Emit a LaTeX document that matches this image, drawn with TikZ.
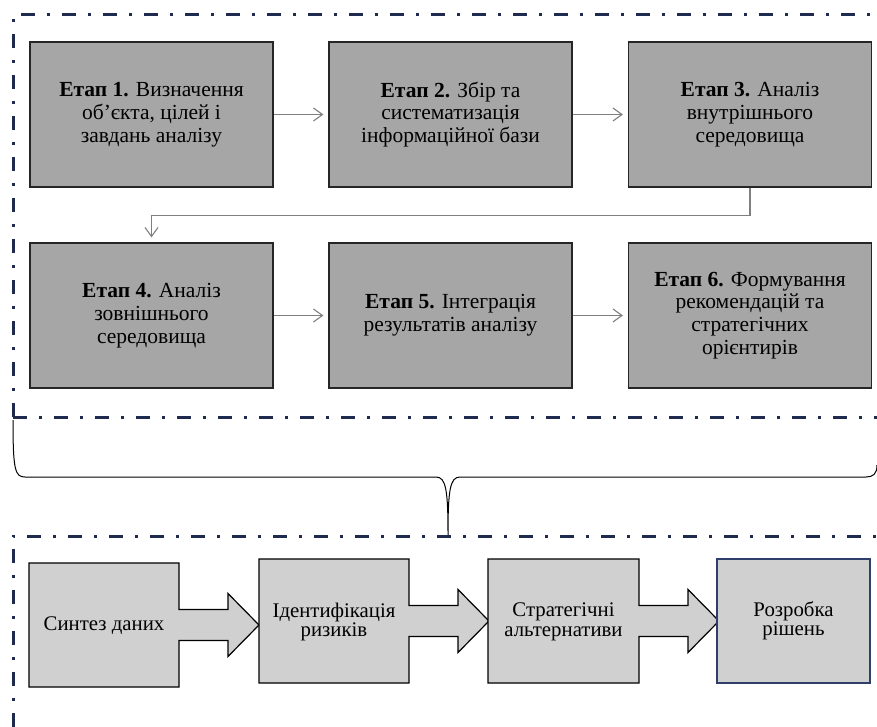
\documentclass[tikz,border=0pt]{standalone}
\usepackage{fontspec}
\setmainfont{Liberation Serif}
\usetikzlibrary{arrows.meta,calc}
\definecolor{navyframe}{HTML}{1F2A4F}
\definecolor{navyborder}{HTML}{2F3E6B}
\definecolor{topgray}{HTML}{A6A6A6}
\definecolor{botgray}{HTML}{D0D0D0}
\definecolor{conngray}{HTML}{7F7F7F}
\newcommand\ArrowShape[4]{%
  \draw[abox] (#1,#2) -- (#3,#2) -- (#3,{(#2+#4)/2-15.5}) -- ({#3+49},{(#2+#4)/2-15.5})
    -- ({#3+49},{(#2+#4)/2-31.5}) -- ({#3+80},{(#2+#4)/2}) -- ({#3+49},{(#2+#4)/2+31.5})
    -- ({#3+49},{(#2+#4)/2+15.5}) -- (#3,{(#2+#4)/2+15.5}) -- (#3,#4) -- (#1,#4) -- cycle;}
\begin{document}
\begin{tikzpicture}[x=1pt,y=-1pt,
  stage/.style={draw=black!85,line width=1.2pt,fill=topgray,minimum width=243pt,minimum height=145pt,
    align=center,inner sep=0pt,font=\fontsize{21.5}{22.8}\selectfont},
  frameline/.style={draw=navyframe,line width=3pt,dash pattern=on 14pt off 12pt on 3pt off 12pt},
  conn/.style={draw=conngray,line width=1.1pt,-{Straight Barb[length=9pt,width=13pt]},shorten >=5pt},
  abox/.style={draw=black,line width=1.2pt,fill=botgray},
  atext/.style={align=center,inner sep=0pt,font=\fontsize{20.8}{19.5}\selectfont}]
\useasboundingbox (0,0) rectangle (877,727);

% frames
\draw[frameline] (13,417) -- (13,15) -- (877,15);
\draw[frameline] (13,417) -- (877,417);
\draw[frameline] (13,727) -- (13,536) -- (877,536);

% stages
\node[stage] (b1) at (151.5,114.5) {\textbf{Етап 1.} Визначення\\об’єкта, цілей і\\завдань аналізу};
\node[stage] (b2) at (450.5,114.5) {\textbf{Етап 2.} Збір та\\систематизація\\інформаційної бази};
\node[stage] (b3) at (750,114.5) {\textbf{Етап 3.} Аналіз\\внутрішнього\\середовища};
\node[stage] (b4) at (151.5,315.5) {\textbf{Етап 4.} Аналіз\\зовнішнього\\середовища};
\node[stage] (b5) at (450.5,315.5) {\textbf{Етап 5.} Інтеграція\\результатів аналізу};
\node[stage] (b6) at (750,315.5) {\textbf{Етап 6.} Формування\\рекомендацій та\\стратегічних\\орієнтирів};

\draw[conn] (b1) -- (b2);
\draw[conn] (b2) -- (b3);
\draw[conn] (b3.south) -- ++(0,28) -| (b4.north);
\draw[conn] (b4) -- (b5);
\draw[conn] (b5) -- (b6);

% brace
\draw[black,line width=1pt] (13,420) .. controls (13,470) and (15,477) .. (25,477) -- (436,477)
  .. controls (446,477) and (448,490) .. (448,535)
  .. controls (448,490) and (450,477) .. (460,477) -- (866,477)
  .. controls (873,477) and (877,474) .. (877,465);

% bottom process
\ArrowShape{29}{563}{179}{687}
\ArrowShape{259}{559}{409}{683}
\ArrowShape{488}{559}{639}{683}
\node[atext] (s1) at (104,626) {Синтез даних};
\node[atext] (s2) at (334,622) {Ідентифікація\\ризиків};
\node[atext] (s3) at (563.5,622) {Стратегічні\\альтернативи};
\node[draw=navyborder,line width=1.2pt,fill=botgray,minimum width=153pt,minimum height=124pt,atext] (s4) at (793.5,621) {Розробка\\рішень};
\end{tikzpicture}
\end{document}
